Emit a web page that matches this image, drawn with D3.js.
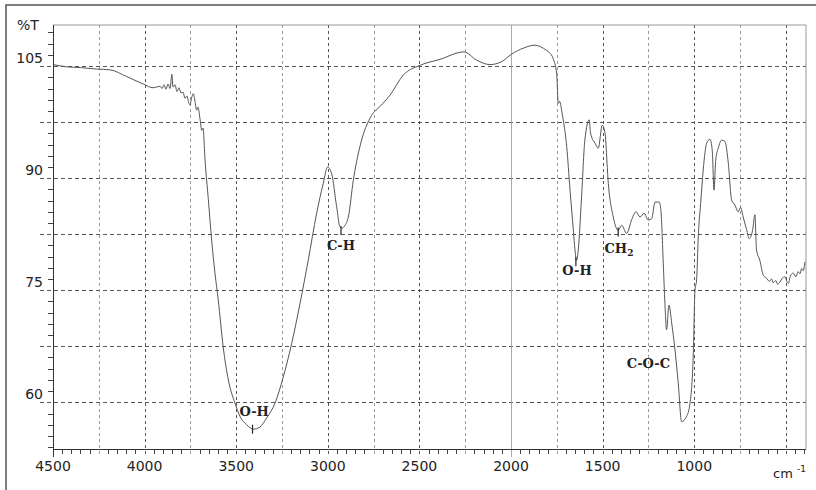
<!DOCTYPE html>
<html>
<head>
<meta charset="utf-8">
<script src="https://cdn.jsdelivr.net/npm/d3@7"></script>
<style>
	body { margin: 0; background: #fff; }
	svg { display: block; }
</style>
</head>
<body>
<svg id="plot" width="816" height="490"></svg>
<script>
/* IR spectrum: wavenumber (cm-1) and %T */
const WAVENUMBER = [
	4498, 4425, 4350, 4262, 4189, 4098, 4007, 3953, 3916,
	3905, 3894, 3883, 3872, 3861, 3851, 3845, 3834, 3823, 3812, 3801, 3790,
	3780, 3769, 3758, 3752, 3744, 3734, 3725, 3716, 3709, 3698, 3688, 3681,
	3670, 3652, 3634, 3616, 3598, 3571, 3543, 3507, 3479, 3443, 3407, 3370,
	3334, 3288, 3243, 3197, 3152, 3107, 3061, 3025, 3001, 2979, 2952, 2934,
	2923, 2906, 2888, 2861, 2825, 2761, 2715, 2661, 2588, 2497, 2388, 2257,
	2188, 2115, 2051, 1997, 1933, 1869, 1840, 1806, 1790, 1770, 1751, 1742,
	1735, 1724, 1715, 1696, 1678, 1660, 1651, 1642, 1633, 1615, 1597, 1573,
	1567, 1560, 1542, 1524, 1502, 1487, 1469, 1442, 1415, 1396, 1369, 1342,
	1318, 1296, 1274, 1251, 1232, 1214, 1191, 1182, 1169, 1160, 1151, 1138,
	1123, 1105, 1087, 1069, 1042, 1023, 1005, 996, 987, 978, 965, 951,
	932, 914, 902, 892, 883, 869, 850, 832, 814, 796, 778, 760,
	747, 733, 714, 700, 681, 669, 660, 642, 623, 605, 590, 578,
	569, 555, 545, 532, 520, 505, 495, 487, 475, 460, 445, 433,
	423, 414, 405, 396
];
const TRANSMITTANCE = [
	105.2, 104.9, 104.8, 104.6, 104.5, 103.6, 102.6, 102.1, 102.3,
	102.0, 102.5, 101.9, 102.6, 102.0, 103.9, 102.2, 102.5, 101.6, 102.1, 101.4, 101.5,
	100.7, 101.0, 100.0, 99.8, 100.7, 101.3, 100.3, 99.1, 99.5, 98.0, 96.4, 96.7,
	92.4, 87.1, 81.7, 77.3, 73.7, 67.4, 63.0, 59.9, 58.1, 57.0, 56.4, 56.7,
	57.9, 59.9, 63.4, 67.9, 73.2, 79.0, 85.3, 89.3, 91.5, 90.6, 86.2, 83.5,
	83.3, 83.7, 84.8, 89.7, 94.2, 98.4, 99.6, 101.1, 103.8, 105.1, 105.9, 106.9,
	105.8, 105.2, 105.6, 106.6, 107.4, 107.8, 107.6, 107.1, 106.8, 106.0, 104.0, 100.0,
	100.3, 99.1, 97.8, 94.2, 88.4, 83.1, 80.4, 79.0, 80.4, 87.5, 95.1, 97.8,
	96.2, 95.5, 94.7, 94.0, 97.1, 96.0, 89.3, 84.8, 83.0, 83.7, 82.6, 84.4,
	85.5, 84.8, 85.3, 84.4, 84.6, 86.8, 86.8, 85.7, 78.6, 73.2, 69.7, 73.0,
	70.6, 67.0, 62.5, 57.4, 58.1, 59.9, 66.6, 75.0, 76.4, 82.2, 86.6, 91.1,
	94.7, 95.2, 93.8, 88.4, 92.4, 94.0, 95.1, 94.9, 92.0, 87.1, 86.4, 85.5,
	86.1, 84.8, 83.1, 81.9, 83.1, 85.1, 80.4, 79.0, 77.0, 76.6, 76.2, 76.5,
	76.0, 76.3, 75.8, 76.1, 76.6, 76.8, 76.2, 75.9, 76.9, 77.3, 76.8, 77.5,
	77.2, 77.9, 77.6, 78.8
];

const X_TICKS = [4500, 4000, 3500, 3000, 2500, 2000, 1500, 1000];
const Y_TICKS = [60, 75, 90, 105];

/* band assignments: marker at the band, label anchor */
const PEAK_WN = [3411, 2928, 1646, 1415];
const PEAK_T = [57.0, 83.6, 79.4, 83.4];
const LABEL_NAMES = ['O-H', 'C-H', 'O-H', 'CH2', 'C-O-C'];
const LABEL_WN = [3402, 2928, 1640, 1411, 1250];
const LABEL_T = [58.2, 80.4, 77.0, 80.0, 64.6];

function whenDocumentLoaded(action) {
	if (document.readyState === "loading") {
		document.addEventListener("DOMContentLoaded", action);
	} else {
		action();
	}
}

function drawSpectrum() {
	const svg = d3.select('#plot');
	const left = 53, right = 806, top = 25, bottom = 449;

	const x = d3.scaleLinear().domain([4500, 390]).range([left, right]);
	const y = d3.scaleLinear().domain([53.75, 110.5]).range([bottom, top]);

	/* outer frame */
	svg.append('path')
		.attr('d', `M6,490 V5 H816`)
		.attr('fill', 'none')
		.attr('stroke', '#555')
		.attr('stroke-width', 1.5);

	/* grid */
	const hGrid = d3.range(60, 106, 7.5);
	svg.append('g').selectAll('line')
		.data(hGrid)
		.enter().append('line')
			.attr('x1', left - 13).attr('x2', right)
			.attr('y1', d => Math.round(y(d)) + 0.5)
			.attr('y2', d => Math.round(y(d)) + 0.5)
			.attr('stroke', '#555')
			.attr('stroke-dasharray', '4,3');

	const vGrid = d3.range(4250, 499, -250);
	svg.append('g').selectAll('line')
		.data(vGrid)
		.enter().append('line')
			.attr('x1', d => Math.round(x(d)) + 0.5)
			.attr('x2', d => Math.round(x(d)) + 0.5)
			.attr('y1', top).attr('y2', bottom + 8)
			.attr('stroke', d => d === 2000 ? '#aaa' : (d % 500 === 0 ? '#555' : '#999'))
			.attr('stroke-dasharray', d => d === 2000 ? null : '3,3');

	/* minor ticks */
	svg.append('g').selectAll('line')
		.data(d3.range(4450, 399, -50).filter(d => d % 250 !== 0))
		.enter().append('line')
			.attr('x1', d => Math.round(x(d)) + 0.5)
			.attr('x2', d => Math.round(x(d)) + 0.5)
			.attr('y1', bottom).attr('y2', bottom + 5)
			.attr('stroke', '#444');
	svg.append('g').selectAll('line')
		.data(d3.range(54, 110.5, 1.5).filter(d => (d - 60) % 7.5 !== 0))
		.enter().append('line')
			.attr('x1', left - 5).attr('x2', left)
			.attr('y1', d => Math.round(y(d)) + 0.5)
			.attr('y2', d => Math.round(y(d)) + 0.5)
			.attr('stroke', '#444');

	/* plot border */
	svg.append('path')
		.attr('d', `M${left},${top} H${right} V${bottom}`)
		.attr('fill', 'none')
		.attr('stroke', '#999');
	svg.append('path')
		.attr('d', `M${left + 0.5},${top} V${bottom + 8} M${left},${bottom + 0.5} H${right}`)
		.attr('fill', 'none')
		.attr('stroke', '#333');

	/* tick labels */
	svg.append('g').selectAll('text')
		.data(X_TICKS)
		.enter().append('text')
			.attr('x', d => x(d))
			.attr('y', 471)
			.attr('text-anchor', 'middle')
			.style('font', '14px "DejaVu Sans"')
			.style('fill', '#222')
			.text(d => d);
	svg.append('g').selectAll('text')
		.data(Y_TICKS)
		.enter().append('text')
			.attr('x', 43)
			.attr('y', d => y(d) - 3)
			.attr('text-anchor', 'end')
			.style('font', '14px "DejaVu Sans"')
			.style('fill', '#222')
			.text(d => d);

	svg.append('text')
		.attr('x', 17).attr('y', 30)
		.style('font', '14px "DejaVu Sans"')
		.style('fill', '#222')
		.text('%T');
	const unit = svg.append('text')
		.attr('x', 773).attr('y', 478)
		.style('font', '13px "DejaVu Sans"')
		.style('fill', '#222')
		.text('cm ');
	unit.append('tspan')
		.attr('dy', -6)
		.style('font-size', '9px')
		.text('-1');

	/* spectrum */
	const data = WAVENUMBER.map((w, i) => ({ w: w, t: TRANSMITTANCE[i] }));
	svg.append('path')
		.datum(data)
		.attr('d', d3.line().curve(d3.curveMonotoneX).x(d => x(d.w)).y(d => y(d.t)))
		.attr('fill', 'none')
		.attr('stroke', '#555')
		.attr('stroke-width', 1);

	/* band markers and labels */
	svg.append('g').selectAll('line')
		.data(PEAK_WN.map((w, i) => ({ w: w, t: PEAK_T[i] })))
		.enter().append('line')
			.attr('x1', d => x(d.w)).attr('x2', d => x(d.w))
			.attr('y1', d => y(d.t)).attr('y2', d => y(d.t) + 9)
			.attr('stroke', '#222')
			.attr('stroke-width', 1.2);

	const labels = svg.append('g').selectAll('text')
		.data(LABEL_NAMES.map((n, i) => ({ n: n, w: LABEL_WN[i], t: LABEL_T[i] })))
		.enter().append('text')
			.attr('x', d => x(d.w))
			.attr('y', d => y(d.t))
			.attr('text-anchor', 'middle')
			.style('font', 'bold 13px "DejaVu Serif"')
			.style('fill', '#222');
	labels.each(function(d) {
		const t = d3.select(this);
		if (d.n === 'CH2') {
			t.append('tspan').text('CH');
			t.append('tspan').attr('dy', 3).style('font-size', '9px').text('2');
		} else {
			t.text(d.n);
		}
	});
}

whenDocumentLoaded(drawSpectrum);
</script>
</body>
</html>
